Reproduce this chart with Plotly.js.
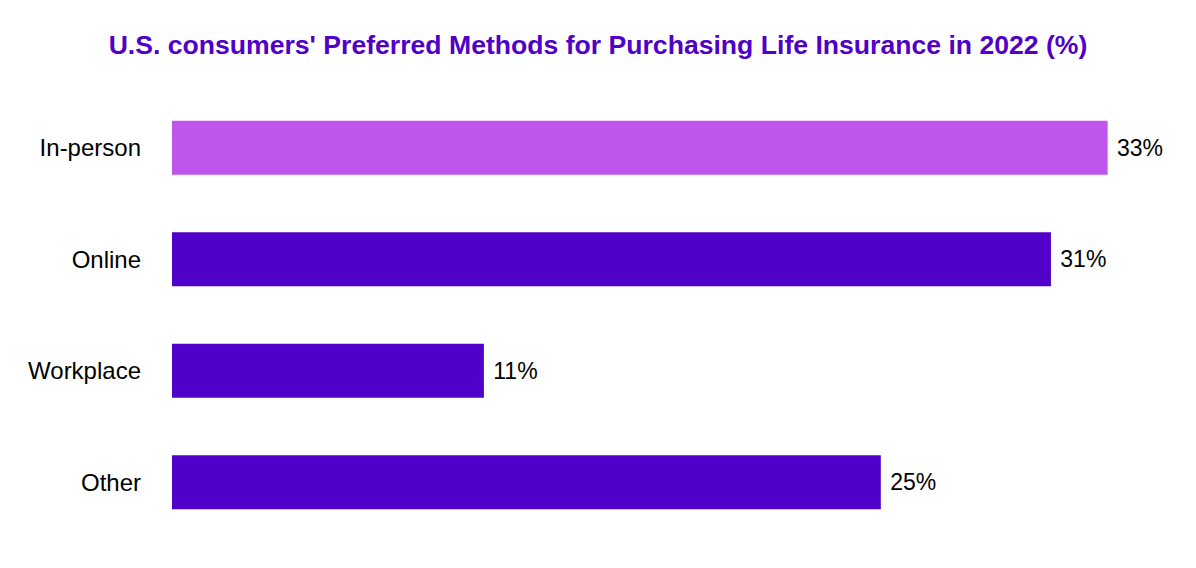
<!DOCTYPE html>
<html><head><meta charset="utf-8">
<script src="https://cdn.plot.ly/plotly-3.0.1.min.js"></script>
<style>html,body{margin:0;padding:0;background:#fff}#chart{width:1196px;height:568px}</style>
</head><body><div id="chart"></div>
<script>
const categories = ["In-person", "Online", "Workplace", "Other"];
const values = [33, 31, 11, 25];
const barColors = ["#bf55ec", "#5000c8", "#5000c8", "#5000c8"];
const labels = values.map(v => " " + v + "%");

const trace = {
  type: "bar",
  orientation: "h",
  y: categories,
  x: values,
  text: labels,
  textposition: "outside",
  cliponaxis: false,
  textfont: {family: "Liberation Sans, Arial, sans-serif", size: 23, color: "#000"},
  marker: {color: barColors},
  width: 0.485,
  hoverinfo: "none"
};

const layout = {
  width: 1196, height: 568,
  margin: {l: 172, r: 60, t: 92, b: 30},
  paper_bgcolor: "#fff", plot_bgcolor: "#fff",
  title: {text: "<b>U.S. consumers' Preferred Methods for Purchasing Life Insurance in 2022 (%)</b>",
    font: {family: "Liberation Sans, Arial, sans-serif", size: 26.6, color: "#5000c8"},
    x: 0.5, xanchor: "center", y: 0.922, yanchor: "middle"},
  xaxis: {range: [0, 34], visible: false, showgrid: false, zeroline: false},
  yaxis: {autorange: "reversed", showgrid: false, zeroline: false, showline: false, ticks: "",
    ticklabelstandoff: 30,
    tickfont: {family: "Liberation Sans, Arial, sans-serif", size: 24, color: "#000"}},
  showlegend: false
};

Plotly.newPlot("chart", [trace], layout, {displayModeBar: false, staticPlot: true});
</script></body></html>
